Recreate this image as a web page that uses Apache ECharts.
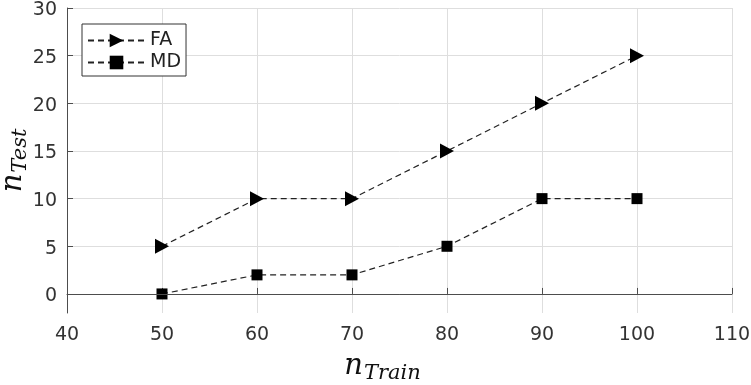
<!DOCTYPE html>
<html>
<head>
<meta charset="utf-8">
<script src="https://cdn.jsdelivr.net/npm/echarts@6/dist/echarts.min.js"></script>
<style>
  html, body { margin: 0; padding: 0; background: #fff; }
  #chart { width: 751px; height: 385px; }
</style>
</head>
<body>
<div id="chart"></div>
<script>
// n_Train values on the x axis
var nTrain = [50, 60, 70, 80, 90, 100];
var faValues = [5, 10, 10, 15, 20, 25];
var mdValues = [0, 2, 2, 5, 10, 10];
var yTicks = [0, 5, 10, 15, 20, 25, 30];

var axisColor = '#4d4d4d';
var gridColor = '#dedede';

function pairs(xs, ys) {
  return xs.map(function (x, i) { return [x, ys[i]]; });
}

var nameRich = {
  n: { fontSize: 29, fontFamily: 'DejaVu Serif', fontStyle: 'italic', color: '#111' },
  s: { fontSize: 21, fontFamily: 'DejaVu Serif', fontStyle: 'italic', color: '#111',
       verticalAlign: 'bottom', padding: [14, 0, 0, 1] }
};

var chart = echarts.init(document.getElementById('chart'));
chart.setOption({
  animation: false,
  grid: { left: 67, right: 19, top: 8, bottom: 72, outerBoundsMode: 'none' },
  legend: {
    orient: 'vertical',
    left: 82, top: 24,
    padding: [7, 5, 4, 5],
    itemGap: 3,
    itemWidth: 57, itemHeight: 17,
    borderColor: '#333', borderWidth: 1,
    backgroundColor: '#fff',
    textStyle: { fontSize: 19, color: '#222', fontFamily: 'DejaVu Sans' },
    data: ['FA', 'MD']
  },
  xAxis: {
    type: 'value',
    min: 40, max: 110, interval: 10,
    name: '{n|n}{s|Train}',
    nameLocation: 'middle',
    nameGap: 36,
    nameMoveOverlap: false,
    nameTextStyle: { padding: [0, 34, 0, 0], rich: nameRich },
    axisLine: { lineStyle: { color: axisColor, width: 1 } },
    axisTick: { inside: true, length: 6, lineStyle: { color: axisColor } },
    axisLabel: { fontSize: 19, color: '#333', fontFamily: 'DejaVu Sans', margin: 13 },
    splitLine: { show: true, lineStyle: { color: gridColor, width: 1 } }
  },
  yAxis: {
    type: 'value',
    min: -2, max: 30,
    name: '{n|n}{s|Test}',
    nameLocation: 'middle',
    nameGap: 36,
    nameMoveOverlap: false,
    nameTextStyle: { rich: nameRich },
    axisLine: { show: true, lineStyle: { color: axisColor, width: 1 } },
    axisTick: { show: true, inside: true, length: 6, customValues: yTicks, lineStyle: { color: axisColor } },
    axisLabel: {
      fontSize: 19, color: '#333', fontFamily: 'DejaVu Sans', margin: 10,
      customValues: yTicks,
      formatter: function (v) { return '{a|' + v + '}'; },
      rich: { a: { fontSize: 19, color: '#333', fontFamily: 'DejaVu Sans', padding: [5, 0, 0, 0] } }
    },
    splitLine: { show: true, lineStyle: { color: gridColor, width: 1 } }
  },
  series: [
    {
      name: 'FA',
      type: 'line',
      data: pairs(nTrain, faValues),
      symbol: 'path://M0,0L1,0.5L0,1Z',
      symbolSize: [14, 15],
      itemStyle: { color: '#000' },
      lineStyle: { color: '#222', width: 1.2, type: [6, 4] },
      markLine: {
        silent: true,
        symbol: ['none', 'none'],
        label: { show: false },
        lineStyle: { color: axisColor, width: 1, type: 'solid' },
        data: [{ yAxis: 0 }]
      }
    },
    {
      name: 'MD',
      type: 'line',
      data: pairs(nTrain, mdValues),
      symbol: 'rect',
      symbolSize: 11,
      itemStyle: { color: '#000' },
      lineStyle: { color: '#222', width: 1.2, type: [6, 4] }
    }
  ]
});
</script>
</body>
</html>
